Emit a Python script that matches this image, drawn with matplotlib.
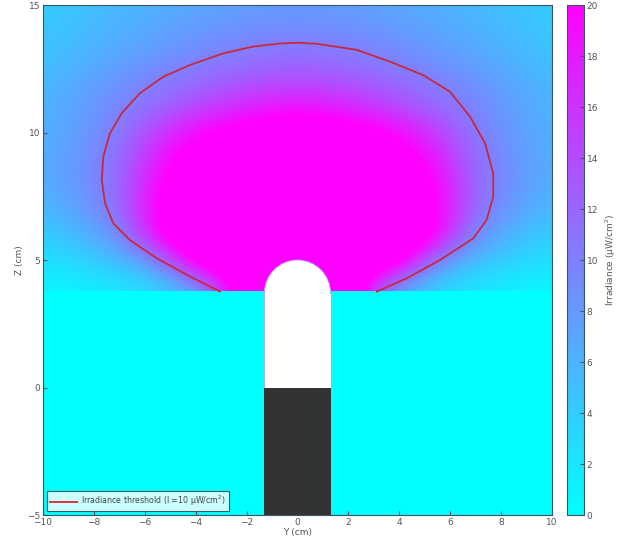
import numpy as np
import matplotlib
matplotlib.use("Agg")
import matplotlib.pyplot as plt
from matplotlib.patches import Rectangle, Wedge
from matplotlib.lines import Line2D

# ---- data ----
# irradiance (uW/cm^2) on half grid y = 0..10 (step 1), rows z = 4..15 (step 1); field is symmetric in y
y_half = [0, 1, 2, 3, 4, 5, 6, 7, 8, 9, 10]
z_rows = [4, 5, 6, 7, 8, 9, 10, 11, 12, 13, 14, 15]
irr_half = [
    [32, 30, 26, 15, 7.5, 4.2, 2.8, 2.0, 1.4, 1.0, 0.8],
    [32, 31, 29, 26, 22.5, 13.5, 7.5, 5.4, 4.0, 3.1, 2.5],
    [32, 31.5, 30, 28, 25, 23, 16, 9.3, 6.6, 5.0, 4.0],
    [32, 31.5, 30, 28, 25, 22, 17.5, 11.8, 8.6, 6.8, 5.6],
    [31, 30.5, 29, 27, 24, 21.5, 17, 12.0, 9.3, 7.6, 6.4],
    [28, 27.5, 26, 24, 21.5, 19.7, 15.5, 11.6, 9.2, 7.7, 6.5],
    [23.5, 23, 22, 21, 19.4, 16.8, 13.6, 10.7, 8.6, 7.2, 6.1],
    [18.5, 18.1, 17.2, 15.8, 14.2, 12.6, 11.0, 9.6, 8.2, 7.0, 6.0],
    [14.0, 13.8, 13.2, 12.4, 11.5, 10.6, 9.6, 8.5, 7.4, 6.4, 5.5],
    [11.2, 11.0, 10.6, 10.0, 9.3, 8.5, 7.7, 7.0, 6.2, 5.5, 4.9],
    [9.2, 9.1, 8.8, 8.4, 7.9, 7.4, 6.8, 6.2, 5.6, 5.0, 4.5],
    [7.8, 7.7, 7.5, 7.2, 6.8, 6.4, 6.0, 5.5, 5.0, 4.5, 4.0],
]
# threshold contour (I = 10 uW/cm^2)
thr_y = [-3.04, -4.22, -5.53, -6.58, -7.24, -7.56, -7.69, -7.63, -7.37, -6.91, -6.19, -5.27,
         -4.22, -2.92, -1.74, -0.69, 0.0, 0.75, 2.33, 3.63, 4.94, 5.99, 6.78, 7.37, 7.69,
         7.69, 7.43, 6.91, 5.60, 4.29, 3.11]
thr_z = [3.76, 4.35, 5.07, 5.78, 6.44, 7.22, 8.14, 9.05, 9.97, 10.75, 11.54, 12.19,
         12.65, 13.10, 13.37, 13.49, 13.52, 13.48, 13.24, 12.78, 12.25, 11.60, 10.62, 9.58, 8.40,
         7.48, 6.57, 5.85, 5.00, 4.28, 3.76]

x_ticks = [-10, -8, -6, -4, -2, 0, 2, 4, 6, 8, 10]
z_ticks = [-5, 0, 5, 10, 15]
cb_ticks = [0, 2, 4, 6, 8, 10, 12, 14, 16, 18, 20]

# ---- build full grid (mirror half) ----
half = np.array(irr_half, dtype=float)
full = np.hstack([half[:, :0:-1], half])

plt.rcParams['font.family'] = ['DejaVu Sans']
fig = plt.figure(figsize=(6.24, 5.44), dpi=100)
ax = fig.add_axes([0.0689, 0.0533, 0.8157, 0.9375])
cax = fig.add_axes([0.9087, 0.0533, 0.0272, 0.9375])

cmap = plt.get_cmap('cool')
ax.set_facecolor(cmap(0.0))
im = ax.imshow(full, cmap=cmap, vmin=0, vmax=20, origin='lower',
               extent=(-10.5, 10.5, 3.5, 15.5), interpolation='bicubic', aspect='auto')
clip = Rectangle((-10, 3.8), 20, 11.2, transform=ax.transData)
im.set_clip_path(clip)

# lamp
ax.add_patch(Rectangle((-1.3, 0), 2.6, 3.7, facecolor='white', edgecolor='#b0a0ff', lw=0.6, zorder=3))
ax.add_patch(Rectangle((-1.29, 0.02), 2.58, 3.72, facecolor='white', edgecolor='none', zorder=3.1))
ax.add_patch(Wedge((0, 3.7), 1.3, 0, 180, facecolor='white', edgecolor='#b0a0ff', lw=0.6, zorder=3))
ax.add_patch(Rectangle((-1.3, -5), 2.6, 5.0, facecolor='#333333', edgecolor='none', zorder=4))

ax.plot(thr_y, thr_z, color='#c8283c', lw=1.3, zorder=5, solid_capstyle='round',
        solid_joinstyle='round')

ax.set_xlim(-10, 10)
ax.set_ylim(-5, 15)
ax.set_xticks(x_ticks)
ax.set_yticks(z_ticks)
tc = '#555555'
ax.tick_params(direction='in', length=3, labelsize=6.5, colors=tc, top=False, right=False, pad=2)
for s in ax.spines.values():
    s.set_color('#3a5566')
    s.set_linewidth(0.8)
ax.set_xlabel('Y (cm)', fontsize=6.5, color=tc, labelpad=1)
ax.set_ylabel('Z (cm)', fontsize=6.5, color=tc, labelpad=2)

leg_line = Line2D([0], [0], color='#e03040', lw=1.4)
leg = ax.legend([leg_line], ['Irradiance threshold (I =10 \u03bcW/cm$^2$)'], loc='lower left',
                fontsize=5.7, frameon=True, fancybox=False, edgecolor='#333333',
                borderaxespad=0.45, handlelength=3.4, handletextpad=0.5, borderpad=0.4)
leg.get_frame().set_linewidth(0.8)
for t in leg.get_texts():
    t.set_color('#444444')

cb = fig.colorbar(im, cax=cax, ticks=cb_ticks)
cb.outline.set_edgecolor('#3a5566')
cb.outline.set_linewidth(0.8)
cax.tick_params(direction='in', length=3, labelsize=6.5, colors=tc, pad=2)
cb.set_label('Irradiance (\u03bcW/cm$^2$)', fontsize=6.5, color=tc, labelpad=4)

fig.savefig('out.png', dpi=100, facecolor='white')
